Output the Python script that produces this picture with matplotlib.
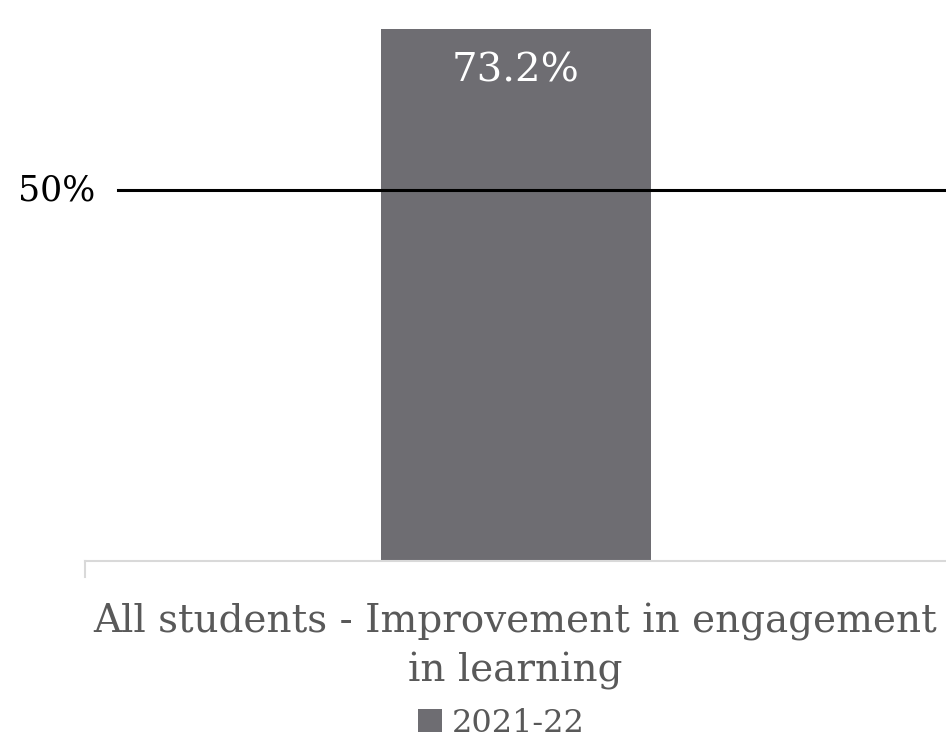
import matplotlib.pyplot as plt
from matplotlib.patches import Patch

categories = ['All students - Improvement in engagement\nin learning']
values = [0.732]
value_labels = ['73.2%']
series_name = '2021-22'
threshold = 0.5
threshold_label = '50%'

plt.rcParams['font.family'] = ['DejaVu Serif']

fig = plt.figure(figsize=(9.46, 7.51), dpi=100)
ax = fig.add_axes([0.0899, 0.253, 0.9101, 0.7084])

bar_color = '#6e6d72'
bars = ax.bar(range(len(categories)), values, width=0.3136, color=bar_color, zorder=2)
ax.set_xlim(-0.5, len(categories) - 0.5)
ax.set_ylim(0, 0.717)

for b, lab in zip(bars, value_labels):
    ax.text(b.get_x() + b.get_width() / 2, 0.66, lab, color='white',
            fontsize=29, ha='center', va='center', zorder=3)

ax.axhline(threshold, xmin=0.038, xmax=1, color='black', linewidth=2.2, zorder=4)
ax.text(0.012, threshold, threshold_label, transform=ax.get_yaxis_transform(),
        fontsize=25, ha='right', va='center', color='black')

for s in ['top', 'right', 'left']:
    ax.spines[s].set_visible(False)
ax.spines['bottom'].set_color('#d9d9d9')
ax.spines['bottom'].set_linewidth(1.5)
ax.set_yticks([])
ax.set_xticks(range(len(categories)))
ax.set_xticklabels(categories, fontsize=28, color='#595959', linespacing=1.4)
ax.tick_params(axis='x', length=0, pad=30)
ax.plot([0, 0], [0, -0.03], transform=ax.transAxes, color='#d9d9d9',
        linewidth=1.5, clip_on=False)

handles = [Patch(facecolor=bar_color, label=series_name)]
fig.legend(handles=handles, loc='center', bbox_to_anchor=(0.53, 0.037),
           frameon=False, fontsize=23, labelcolor='#595959',
           handlelength=0.75, handleheight=0.75, handletextpad=0.3)

fig.savefig('out.png', dpi=100)
